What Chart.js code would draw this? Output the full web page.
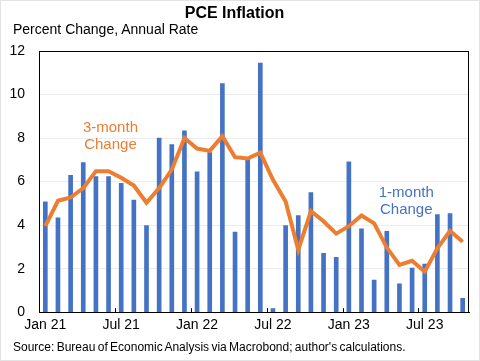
<!DOCTYPE html>
<html>
<head>
<meta charset="utf-8">
<script src="https://cdn.jsdelivr.net/npm/chart.js@4"></script>
<style>
  body { margin: 0; background: #fff; }
  #wrap { position: relative; width: 480px; height: 361px; }
  #frame { position: absolute; left: 0; top: 0; width: 478px; height: 359px; border: 1px solid #e3e3e3; pointer-events: none; }
  #subtitle { position: absolute; left: 13px; top: 21px; font: 14px "Liberation Sans", Arial, sans-serif; color: #000; white-space: nowrap; }
  #source { position: absolute; left: 13px; top: 340px; font: 12px "Liberation Sans", Arial, sans-serif; color: #000; word-spacing: -1px; white-space: nowrap; }
</style>
</head>
<body>
<div id="wrap">
  <canvas id="pceChart" width="480" height="361"></canvas>
  <div id="frame"></div>
  <div id="subtitle">Percent Change, Annual Rate</div>
  <div id="source">Source: Bureau of Economic Analysis via Macrobond; author's calculations.</div>
</div>
<script>
const months = [
    "Jan 21", "Feb 21", "Mar 21", "Apr 21", "May 21", "Jun 21", "Jul 21", "Aug 21", "Sep 21", "Oct 21", "Nov 21", "Dec 21",
    "Jan 22", "Feb 22", "Mar 22", "Apr 22", "May 22", "Jun 22", "Jul 22", "Aug 22", "Sep 22", "Oct 22", "Nov 22", "Dec 22",
    "Jan 23", "Feb 23", "Mar 23", "Apr 23", "May 23", "Jun 23", "Jul 23", "Aug 23", "Sep 23", "Oct 23"
];

// 1-month change, annual rate
const oneMonth = [
    5.07, 4.33, 6.29, 6.87, 6.23, 6.23, 5.92, 5.15, 3.98, 8.0, 7.7, 8.33,
    6.45, 7.33, 10.5, 3.68, 7.02, 11.45, 0.17, 3.98, 4.44, 5.5, 2.71, 2.52,
    6.91, 3.83, 1.48, 3.71, 1.3, 2.03, 2.21, 4.48, 4.53, 0.64
];

// 3-month change, annual rate
const threeMonth = [
    3.95, 5.12, 5.27, 5.7, 6.48, 6.48, 6.18, 5.82, 5.03, 5.7, 6.55, 8.0,
    7.52, 7.41, 8.09, 7.12, 7.06, 7.33, 6.08, 5.09, 2.86, 4.64, 4.18, 3.61,
    3.95, 4.44, 4.08, 2.97, 2.17, 2.36, 1.86, 2.94, 3.73, 3.24
];

const yTicks = [0, 2, 4, 6, 8, 10, 12];

const blue = "#4472C4";
const orange = "#ED7D31";
const fontFamily = "'Liberation Sans', Arial, sans-serif";

// frame, inner tick marks and series labels
const extras = {
    id: "extras",
    afterDraw(chart) {
        const ctx = chart.ctx;
        const area = chart.chartArea;
        const x = chart.scales.x;
        const y = chart.scales.y;
        ctx.save();
        ctx.strokeStyle = "#000";
        ctx.lineWidth = 1;
        ctx.strokeRect(Math.round(area.left) + 0.5, Math.round(area.top) + 0.5,
            Math.round(area.right - area.left) - 1, Math.round(area.bottom - area.top));
        // small tick marks between Jun/Jul and Dec/Jan
        for (let i = 5.5; i < months.length; i += 6) {
            const px = Math.round(x.getPixelForValue(i)) + 0.5;
            ctx.beginPath();
            ctx.moveTo(px, area.bottom);
            ctx.lineTo(px, area.bottom - 4);
            ctx.stroke();
        }
        ctx.font = "15px " + fontFamily;
        ctx.textAlign = "center";
        ctx.textBaseline = "alphabetic";
        ctx.fillStyle = orange;
        ctx.fillText("3-month", x.getPixelForValue(5.15), y.getPixelForValue(8.27));
        ctx.fillText("Change", x.getPixelForValue(5.15), y.getPixelForValue(7.5));
        ctx.fillStyle = blue;
        ctx.fillText("1-month", x.getPixelForValue(28.54), y.getPixelForValue(5.27));
        ctx.fillText("Change", x.getPixelForValue(28.54), y.getPixelForValue(4.49));
        ctx.restore();
    }
};

new Chart(document.getElementById("pceChart"), {
    type: "bar",
    data: {
        labels: months,
        datasets: [
            {
                type: "line",
                label: "3-month Change",
                data: threeMonth,
                borderColor: orange,
                borderWidth: 4,
                pointRadius: 0,
                tension: 0,
                order: 0
            },
            {
                label: "1-month Change",
                data: oneMonth,
                backgroundColor: blue,
                barThickness: 4,
                order: 1
            }
        ]
    },
    options: {
        responsive: false,
        animation: false,
        layout: { padding: { left: 0, right: 11, top: 0, bottom: 22 } },
        plugins: {
            legend: { display: false },
            tooltip: { enabled: false },
            title: {
                display: true,
                text: "PCE Inflation",
                color: "#000",
                font: { family: fontFamily, size: 16, weight: "bold" },
                padding: { top: 4, bottom: 27.8 }
            }
        },
        scales: {
            x: {
                grid: { display: false, drawTicks: false },
                border: { color: "#000" },
                ticks: {
                    autoSkip: false,
                    maxRotation: 0,
                    padding: 5,
                    color: "#000",
                    font: { family: fontFamily, size: 14 },
                    callback: (v, i) => (i % 6 === 0 ? months[i] : "")
                }
            },
            y: {
                min: 0,
                max: 12,
                afterBuildTicks: s => { s.ticks = yTicks.map(v => ({ value: v })); },
                afterFit: s => { s.width = 39; },
                grid: { color: "#ececec", drawTicks: false },
                border: { color: "#000" },
                ticks: {
                    padding: 14,
                    color: "#000",
                    font: { family: fontFamily, size: 14 }
                }
            }
        }
    },
    plugins: [extras]
});
</script>
</body>
</html>
